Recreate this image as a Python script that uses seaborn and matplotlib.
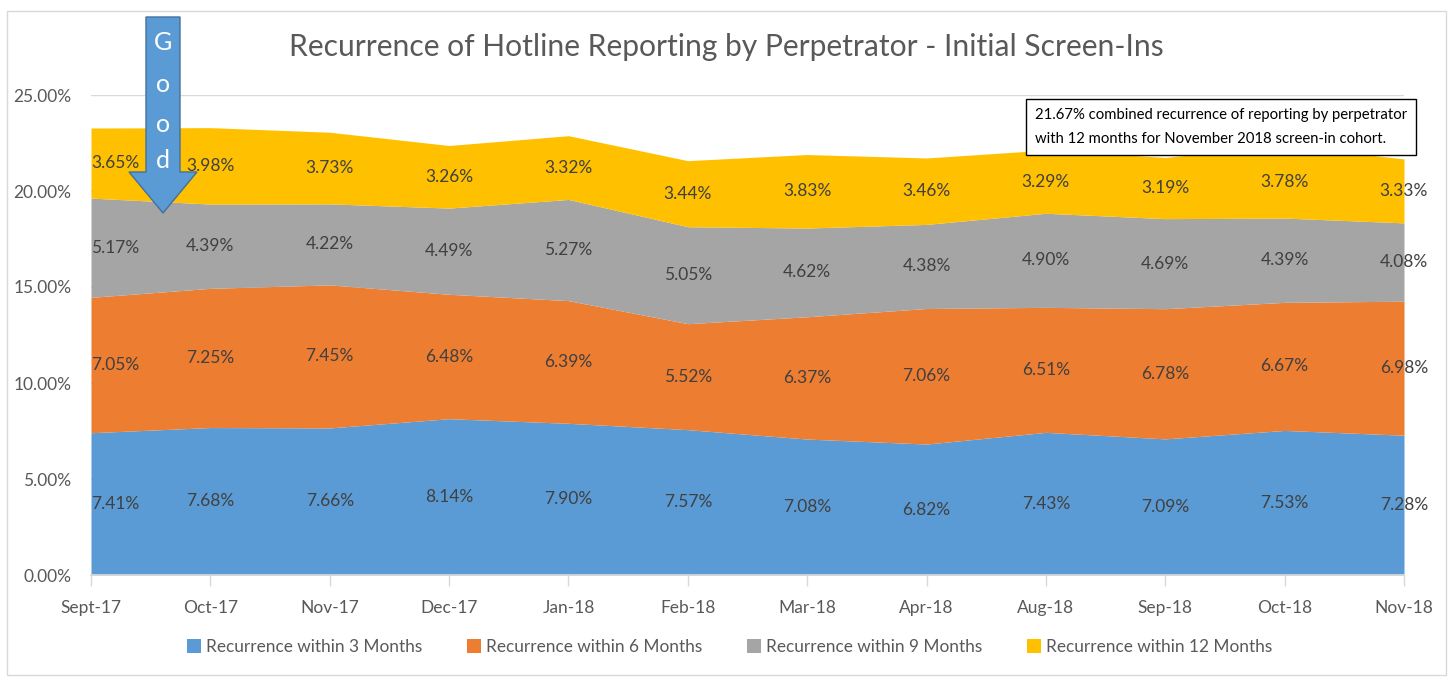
import numpy as np
import matplotlib
matplotlib.use('Agg')
import matplotlib.pyplot as plt
from matplotlib.patches import Patch, Polygon, Rectangle
import seaborn as sns

# Data (percent)
months = ['Sept-17', 'Oct-17', 'Nov-17', 'Dec-17', 'Jan-18', 'Feb-18',
          'Mar-18', 'Apr-18', 'Aug-18', 'Sep-18', 'Oct-18', 'Nov-18']
within_3 = [7.41, 7.68, 7.66, 8.14, 7.90, 7.57, 7.08, 6.82, 7.43, 7.09, 7.53, 7.28]
within_6 = [7.05, 7.25, 7.45, 6.48, 6.39, 5.52, 6.37, 7.06, 6.51, 6.78, 6.67, 6.98]
within_9 = [5.17, 4.39, 4.22, 4.49, 5.27, 5.05, 4.62, 4.38, 4.90, 4.69, 4.39, 4.08]
within_12 = [3.65, 3.98, 3.73, 3.26, 3.32, 3.44, 3.83, 3.46, 3.29, 3.19, 3.78, 3.33]

series_names = ['Recurrence within 3 Months', 'Recurrence within 6 Months',
                'Recurrence within 9 Months', 'Recurrence within 12 Months']
colors = ['#5B9BD5', '#ED7D31', '#A5A5A5', '#FFC000']

sns.set_theme(style='white')
plt.rcParams['font.family'] = ['Lato', 'DejaVu Sans']
text_col = '#595959'

W, H = 1453, 677
fig = plt.figure(figsize=(W / 100, H / 100), dpi=100)
ax = fig.add_axes([91 / W, 1 - 575 / H, (1404 - 91) / W, (575 - 95) / H])

x = np.arange(len(months))
layers = np.array([within_3, within_6, within_9, within_12]) / 100
ax.stackplot(x, layers, colors=colors, linewidth=0, zorder=2)

# data labels centred in each band
bottoms = np.vstack([np.zeros(len(x)), np.cumsum(layers, axis=0)[:-1]])
for vals, base in zip(layers, bottoms):
    for i in x:
        ha = 'left' if i == 0 else 'center'
        ax.text(i, base[i] + vals[i] / 2, f'{vals[i] * 100:.2f}%', ha=ha, va='center',
                fontsize=12.5, color='#404040', zorder=3)

ax.set_xlim(0, len(x) - 1)
ax.set_ylim(0, 0.25)
ax.set_yticks(np.arange(0, 0.2501, 0.05))
ax.yaxis.set_major_formatter(plt.FuncFormatter(lambda v, _: f'{v * 100:.2f}%'))
ax.set_xticks(x)
ax.set_xticklabels(months)
ax.tick_params(axis='y', length=0, pad=14, labelsize=12.5, labelcolor=text_col)
ax.tick_params(axis='x', length=8, width=1, color='#D9D9D9', direction='out',
               pad=10, labelsize=12.5, labelcolor=text_col, bottom=True)
ax.grid(axis='y', color='#D9D9D9', linewidth=1, zorder=0)
ax.set_axisbelow(True)
sns.despine(ax=ax, left=True, top=True, right=True)
ax.spines['bottom'].set_color('#D9D9D9')
ax.spines['bottom'].set_zorder(4)

fig.text(0.5, 1 - 47 / H, 'Recurrence of Hotline Reporting by Perpetrator - Initial Screen-Ins',
         ha='center', va='center', fontsize=21.6, color=text_col)

handles = [Patch(facecolor=c, edgecolor='none', label=n) for c, n in zip(colors, series_names)]
fig.legend(handles=handles, loc='center', bbox_to_anchor=(730 / W, 1 - 647 / H), ncol=4,
           frameon=False, fontsize=12.4, labelcolor=text_col, handlelength=0.8,
           handleheight=0.8, handletextpad=0.3, columnspacing=2.6)

# annotation box
ax.text(1035 / W, 1 - 127 / H,
        '21.67% combined recurrence of reporting by perpetrator\nwith 12 months for November 2018 screen-in cohort.',
        transform=fig.transFigure, ha='left', va='center', fontsize=10.7, color='black',
        linespacing=1.9, zorder=6,
        bbox=dict(boxstyle='square,pad=0.6', facecolor='white', edgecolor='black', linewidth=1))

# "Good" arrow
pts = [(146, 17), (180, 17), (180, 172), (197, 172), (163, 213), (129, 172), (146, 172)]
arrow = Polygon([(px / W, 1 - py / H) for px, py in pts], closed=True, transform=fig.transFigure,
                facecolor='#5B9BD5', edgecolor='#41719C', linewidth=1, zorder=10)
fig.add_artist(arrow)
for letter, py in zip('Good', [42, 84, 124, 160]):
    fig.text(163 / W, 1 - py / H, letter, ha='center', va='center', fontsize=18,
             color='white', zorder=11)

# outer chart border
fig.add_artist(Rectangle((7 / W, 1 - 675 / H), (1446 - 7) / W, (675 - 11) / H,
                         transform=fig.transFigure, fill=False, edgecolor='#D9D9D9', linewidth=1))

fig.savefig('out.png', dpi=100)
